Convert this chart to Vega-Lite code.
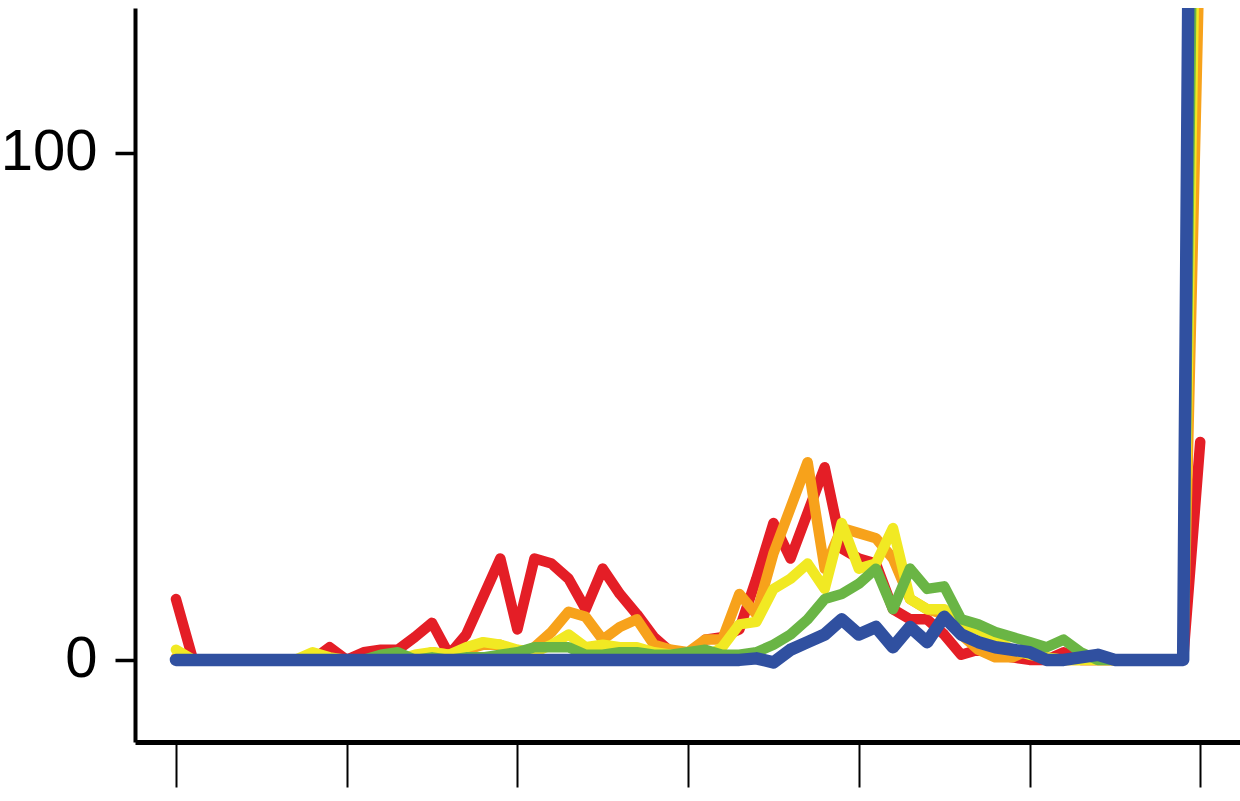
{
  "$schema": "https://vega.github.io/schema/vega-lite/v6.json",
  "autosize": "none",
  "width": 1105,
  "height": 734,
  "padding": {"left": 135, "top": 8, "right": 0, "bottom": 59},
  "background": "white",
  "config": {"view": {"stroke": null}},
  "data": {
    "values": [
      {"x":0,"red":12,"orange":0.5,"yellow":2,"green":0,"blue":0},
      {"x":1,"red":0,"orange":0,"yellow":0,"green":0,"blue":0},
      {"x":2,"red":0,"orange":0,"yellow":0,"green":0,"blue":0},
      {"x":3,"red":0,"orange":0,"yellow":0,"green":0,"blue":0},
      {"x":4,"red":0,"orange":0,"yellow":0,"green":0,"blue":0},
      {"x":5,"red":0,"orange":0,"yellow":0,"green":0,"blue":0},
      {"x":6,"red":0,"orange":0,"yellow":0,"green":0,"blue":0},
      {"x":7,"red":0,"orange":0,"yellow":0,"green":0,"blue":0},
      {"x":8,"red":0,"orange":0.5,"yellow":1.5,"green":0,"blue":0},
      {"x":9,"red":2.5,"orange":0,"yellow":0.5,"green":0,"blue":0},
      {"x":10,"red":0,"orange":0,"yellow":0,"green":0,"blue":0},
      {"x":11,"red":1.5,"orange":0,"yellow":0,"green":0,"blue":0},
      {"x":12,"red":2,"orange":0,"yellow":0,"green":1,"blue":0},
      {"x":13,"red":2,"orange":0,"yellow":0,"green":1.5,"blue":0},
      {"x":14,"red":4.5,"orange":0.5,"yellow":1,"green":0,"blue":0},
      {"x":15,"red":7.3,"orange":1.5,"yellow":1.5,"green":0.5,"blue":0},
      {"x":16,"red":1,"orange":1,"yellow":1,"green":0,"blue":0},
      {"x":17,"red":5,"orange":2,"yellow":2.5,"green":0.5,"blue":0},
      {"x":18,"red":12.5,"orange":3,"yellow":3.5,"green":0.5,"blue":0},
      {"x":19,"red":20,"orange":3,"yellow":3,"green":1,"blue":0},
      {"x":20,"red":6,"orange":1,"yellow":2,"green":1.5,"blue":0},
      {"x":21,"red":20,"orange":2.5,"yellow":1.5,"green":2.5,"blue":0},
      {"x":22,"red":19,"orange":5.5,"yellow":3,"green":2.5,"blue":0},
      {"x":23,"red":16,"orange":9.5,"yellow":5,"green":2.5,"blue":0},
      {"x":24,"red":10,"orange":8.5,"yellow":2.5,"green":1,"blue":0},
      {"x":25,"red":18,"orange":4,"yellow":3,"green":1,"blue":0},
      {"x":26,"red":13,"orange":6.5,"yellow":2.5,"green":1.5,"blue":0},
      {"x":27,"red":9,"orange":8,"yellow":2.5,"green":1.5,"blue":0},
      {"x":28,"red":4.5,"orange":3,"yellow":1.5,"green":1,"blue":0},
      {"x":29,"red":1.5,"orange":2,"yellow":1,"green":1,"blue":0},
      {"x":30,"red":0.5,"orange":1.5,"yellow":1,"green":1.5,"blue":0},
      {"x":31,"red":4,"orange":4,"yellow":0.5,"green":2,"blue":0},
      {"x":32,"red":4.5,"orange":4,"yellow":2.5,"green":1,"blue":0},
      {"x":33,"red":6,"orange":13,"yellow":7,"green":1,"blue":0},
      {"x":34,"red":16,"orange":9,"yellow":7.5,"green":1.5,"blue":0.3},
      {"x":35,"red":27,"orange":21,"yellow":14,"green":3,"blue":-0.5},
      {"x":36,"red":20,"orange":30,"yellow":16,"green":5,"blue":2},
      {"x":37,"red":29,"orange":39,"yellow":19,"green":8,"blue":3.5},
      {"x":38,"red":38,"orange":18,"yellow":14,"green":12,"blue":5},
      {"x":39,"red":22,"orange":26,"yellow":27,"green":13,"blue":8},
      {"x":40,"red":20,"orange":25,"yellow":18,"green":15,"blue":5},
      {"x":41,"red":19,"orange":24,"yellow":19,"green":18,"blue":6.5},
      {"x":42,"red":10,"orange":20,"yellow":26,"green":10,"blue":2.5},
      {"x":43,"red":8,"orange":12,"yellow":12,"green":18,"blue":6.5},
      {"x":44,"red":8,"orange":10,"yellow":10,"green":14,"blue":3.5},
      {"x":45,"red":5,"orange":9,"yellow":10,"green":14.5,"blue":8.5},
      {"x":46,"red":1,"orange":5,"yellow":7,"green":8,"blue":5},
      {"x":47,"red":2,"orange":2,"yellow":6,"green":7,"blue":3.5},
      {"x":48,"red":1,"orange":0.5,"yellow":4,"green":5.5,"blue":2.5},
      {"x":49,"red":0.5,"orange":0.5,"yellow":2,"green":4.5,"blue":2},
      {"x":50,"red":0,"orange":2,"yellow":1,"green":3.5,"blue":1.5},
      {"x":51,"red":0,"orange":0.5,"yellow":0.5,"green":2.5,"blue":0},
      {"x":52,"red":1.5,"orange":0,"yellow":0,"green":4,"blue":0},
      {"x":53,"red":0,"orange":0,"yellow":0,"green":1.5,"blue":0.5},
      {"x":54,"red":0,"orange":0,"yellow":0,"green":0,"blue":1},
      {"x":55,"red":0,"orange":0,"yellow":0,"green":0,"blue":0},
      {"x":56,"red":0,"orange":0,"yellow":0,"green":0,"blue":0},
      {"x":57,"red":0,"orange":0,"yellow":0,"green":0,"blue":0},
      {"x":58,"red":0,"orange":0,"yellow":0,"green":0,"blue":0},
      {"x":59,"red":0,"orange":0,"yellow":0,"green":0,"blue":0},
      {"x":60,"red":43,"orange":145,"yellow":208,"green":274,"blue":436}
    ]
  },
  "encoding": {
    "x": {
      "field": "x", "type": "quantitative",
      "scale": {"domain": [-2.4, 62.33], "nice": false, "zero": false},
      "axis": {
        "title": null, "values": [0, 10, 20, 30, 40, 50, 60], "labels": false,
        "grid": false, "tickSize": 45, "tickWidth": 2, "tickColor": "black",
        "domainColor": "black", "domainWidth": 5
      }
    }
  },
  "layer": [
    {"mark": {"type": "line", "color": "#e41e26", "strokeWidth": 10.5, "strokeJoin": "round", "strokeCap": "round", "clip": true},
     "encoding": {"y": {"field": "red", "type": "quantitative",
       "scale": {"domain": [-16.2, 128.6], "nice": false, "zero": false},
       "axis": {"title": null, "values": [0, 100], "grid": false, "tickSize": 20, "tickWidth": 3.5,
         "tickColor": "black", "domainColor": "black", "domainWidth": 4,
         "labelFont": "Liberation Sans, Arial, sans-serif", "labelFontSize": 58, "labelColor": "black",
         "labelPadding": 18, "format": "d"}}}},
    {"mark": {"type": "line", "color": "#f7a21b", "strokeWidth": 10.5, "strokeJoin": "round", "strokeCap": "round", "clip": true},
     "encoding": {"y": {"field": "orange", "type": "quantitative"}}},
    {"mark": {"type": "line", "color": "#f1e923", "strokeWidth": 10.5, "strokeJoin": "round", "strokeCap": "round", "clip": true},
     "encoding": {"y": {"field": "yellow", "type": "quantitative"}}},
    {"mark": {"type": "line", "color": "#6ab545", "strokeWidth": 10.5, "strokeJoin": "round", "strokeCap": "round", "clip": true},
     "encoding": {"y": {"field": "green", "type": "quantitative"}}},
    {"mark": {"type": "line", "color": "#3050a0", "strokeWidth": 12.5, "strokeJoin": "round", "strokeCap": "round", "clip": true},
     "encoding": {"y": {"field": "blue", "type": "quantitative"}}}
  ]
}
